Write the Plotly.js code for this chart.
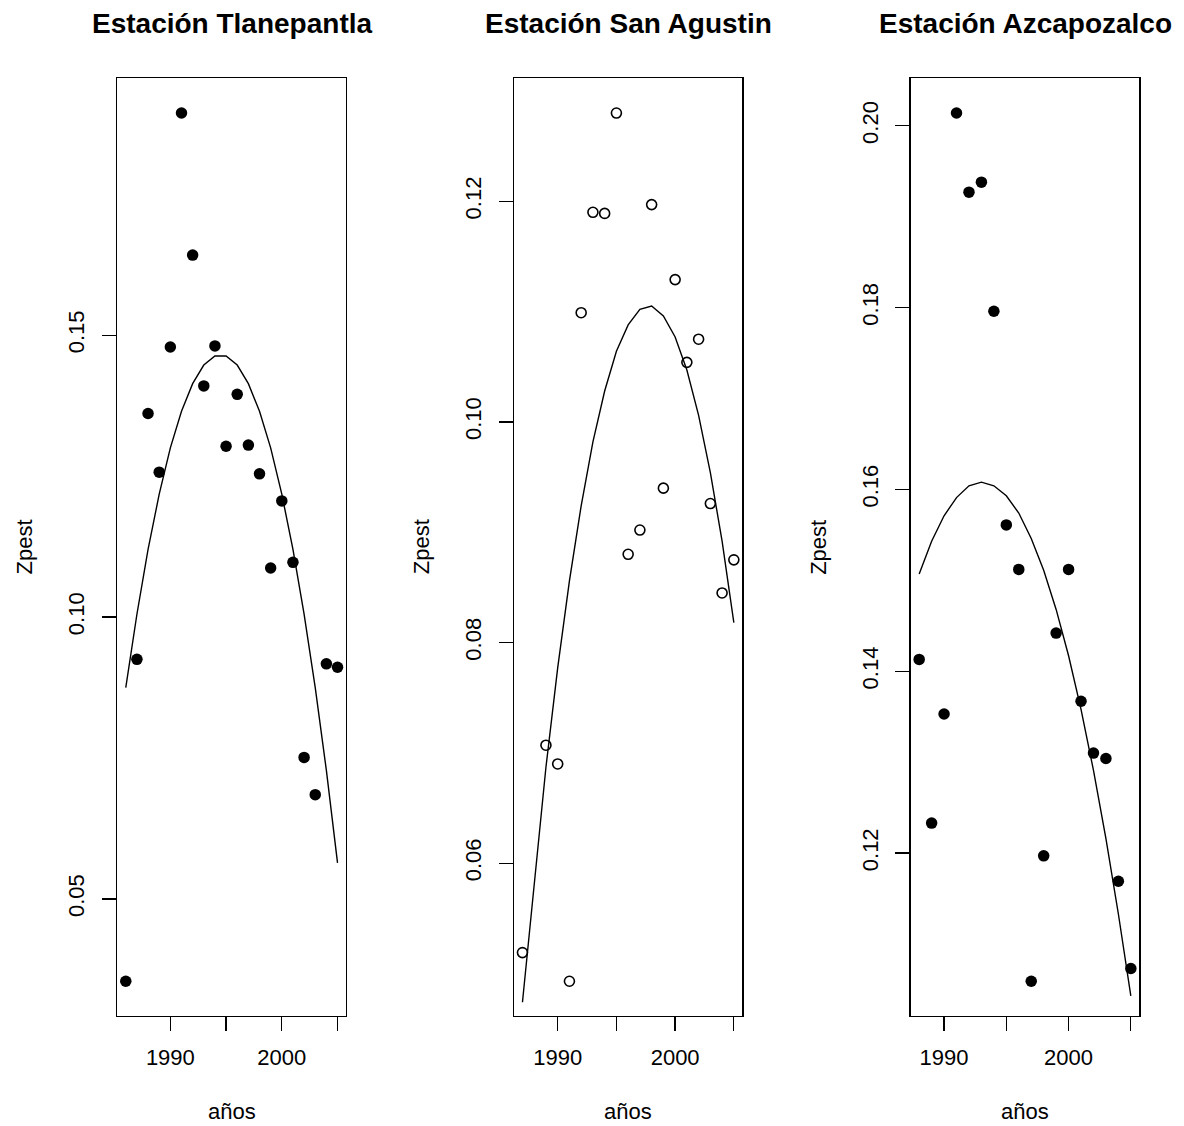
<!DOCTYPE html>
<html>
<head>
<meta charset="utf-8">
<script src="https://cdn.plot.ly/plotly-3.0.1.min.js"></script>
<style>html,body{margin:0;padding:0;background:#fff;}#chart{width:1184px;height:1126px;}</style>
</head>
<body>
<div id="chart"></div>
<script>
// ---- data ----
var titles = ["Estación Tlanepantla", "Estación San Agustin", "Estación Azcapozalco"];
var xLabel = "años";
var yLabel = "Zpest";

var years1 = [1986, 1987, 1988, 1989, 1990, 1991, 1992, 1993, 1994, 1995, 1996, 1997, 1998, 1999, 2000, 2001, 2002, 2003, 2004, 2005];
var zp1    = [0.0354, 0.0925, 0.1361, 0.1257, 0.1479, 0.1894, 0.1642, 0.1410, 0.1481, 0.1303, 0.1395, 0.1305, 0.1254, 0.1087, 0.1206, 0.1097, 0.0751, 0.0685, 0.0917, 0.0911];
var fit1   = [0.0875, 0.1005, 0.1120, 0.1218, 0.1300, 0.1365, 0.1414, 0.1447, 0.1463, 0.1463, 0.1447, 0.1414, 0.1365, 0.1300, 0.1218, 0.1120, 0.1005, 0.0875, 0.0728, 0.0564];

var years2 = [1987, 1989, 1990, 1991, 1992, 1993, 1994, 1995, 1996, 1997, 1998, 1999, 2000, 2001, 2002, 2003, 2004, 2005];
var zp2    = [0.0519, 0.0707, 0.0690, 0.0493, 0.1099, 0.1190, 0.1189, 0.1280, 0.0880, 0.0902, 0.1197, 0.0940, 0.1129, 0.1054, 0.1075, 0.0926, 0.0845, 0.0875];
var fit2   = [0.0474, 0.0687, 0.0777, 0.0856, 0.0924, 0.0982, 0.1028, 0.1064, 0.1088, 0.1102, 0.1105, 0.1096, 0.1077, 0.1047, 0.1006, 0.0954, 0.0892, 0.0818];

var years3 = [1988, 1989, 1990, 1991, 1992, 1993, 1994, 1995, 1996, 1997, 1998, 1999, 2000, 2001, 2002, 2003, 2004, 2005];
var zp3    = [0.1413, 0.1233, 0.1353, 0.2014, 0.1927, 0.1938, 0.1796, 0.1561, 0.1512, 0.1059, 0.1197, 0.1442, 0.1512, 0.1367, 0.1310, 0.1304, 0.1169, 0.1073];
var fit3   = [0.1507, 0.1543, 0.1571, 0.1591, 0.1604, 0.1608, 0.1604, 0.1593, 0.1574, 0.1546, 0.1511, 0.1468, 0.1417, 0.1358, 0.1291, 0.1216, 0.1133, 0.1043];

var xTickVals = [1990, 1995, 2000, 2005];
var xTickText = ["1990", "", "2000", ""];
var yTickVals1 = [0.05, 0.10, 0.15];
var yTickText1 = ["0.05", "0.10", "0.15"];
var yTickVals2 = [0.06, 0.08, 0.10, 0.12];
var yTickText2 = ["0.06", "0.08", "0.10", "0.12"];
var yTickVals3 = [0.12, 0.14, 0.16, 0.18, 0.20];
var yTickText3 = ["0.12", "0.14", "0.16", "0.18", "0.20"];

// ---- layout helpers ----
var W = 1184, H = 1126;
function px(x) { return x / W; }
function py(y) { return 1 - y / H; }
function padRange(a) {
  var lo = Math.min.apply(null, a), hi = Math.max.apply(null, a);
  var d = (hi - lo) * 0.04;
  return [lo - d, hi + d];
}

var boxes = [[117.3, 346.0], [514.0, 742.3], [910.7, 1139.3]];
var boxTop = 78.3, boxBottom = 1016;
var FONT = "Liberation Sans, Arial, Helvetica, sans-serif";

var panels = [
  {x: years1, y: zp1, f: fit1, open: false, yv: yTickVals1, yt: yTickText1},
  {x: years2, y: zp2, f: fit2, open: true,  yv: yTickVals2, yt: yTickText2},
  {x: years3, y: zp3, f: fit3, open: false, yv: yTickVals3, yt: yTickText3}
];

var data = [];
var layout = {
  width: W, height: H,
  margin: {l: 0, r: 0, t: 0, b: 0},
  paper_bgcolor: "#ffffff", plot_bgcolor: "#ffffff",
  showlegend: false,
  font: {family: FONT, size: 22, color: "#000"},
  annotations: []
};

panels.forEach(function (p, i) {
  var sfx = i === 0 ? "" : String(i + 1);
  var xa = "x" + sfx, ya = "y" + sfx;
  data.push({
    type: "scatter", mode: "markers", x: p.x, y: p.y, xaxis: xa, yaxis: ya,
    marker: p.open ? {symbol: "circle-open", size: 10, color: "#000", line: {width: 1.6, color: "#000"}}
                   : {symbol: "circle", size: 11.5, color: "#000"},
    cliponaxis: false, hoverinfo: "x+y"
  });
  data.push({
    type: "scatter", mode: "lines", x: p.x, y: p.f, xaxis: xa, yaxis: ya,
    line: {color: "#000", width: 1.4}, hoverinfo: "x+y"
  });
  var common = {
    showgrid: false, zeroline: false, showline: true, mirror: true,
    linecolor: "#000", linewidth: 1.3,
    ticks: "outside", ticklen: 14, tickwidth: 1.3, tickcolor: "#000",
    tickfont: {family: FONT, size: 22, color: "#000"},
    fixedrange: true
  };
  layout["xaxis" + sfx] = Object.assign({}, common, {
    domain: [px(boxes[i][0]), px(boxes[i][1])],
    anchor: ya, range: padRange(p.x),
    tickmode: "array", tickvals: xTickVals, ticktext: xTickText, tickangle: 0,
    ticklabelstandoff: 7
  });
  layout["yaxis" + sfx] = Object.assign({}, common, {
    domain: [py(boxBottom), py(boxTop)],
    anchor: xa, range: padRange(p.y),
    tickmode: "array", tickvals: p.yv, ticktext: p.yt, tickangle: -90,
    ticklabelstandoff: 9
  });
  var cx = (boxes[i][0] + boxes[i][1]) / 2;
  layout.annotations.push({
    text: "<b>" + titles[i] + "</b>", xref: "paper", yref: "paper",
    x: px(cx), y: py(23), xanchor: "center", yanchor: "middle", showarrow: false,
    font: {family: FONT, size: 28, color: "#000"}
  });
  layout.annotations.push({
    text: xLabel, xref: "paper", yref: "paper",
    x: px(cx), y: py(1111), xanchor: "center", yanchor: "middle", showarrow: false,
    font: {family: FONT, size: 22, color: "#000"}
  });
  layout.annotations.push({
    text: yLabel, xref: "paper", yref: "paper", textangle: -90,
    x: px(boxes[i][0] - 93), y: py((boxTop + boxBottom) / 2), xanchor: "center", yanchor: "middle", showarrow: false,
    font: {family: FONT, size: 22, color: "#000"}
  });
});

Plotly.newPlot("chart", data, layout, {displayModeBar: false, staticPlot: true});
</script>
</body>
</html>
